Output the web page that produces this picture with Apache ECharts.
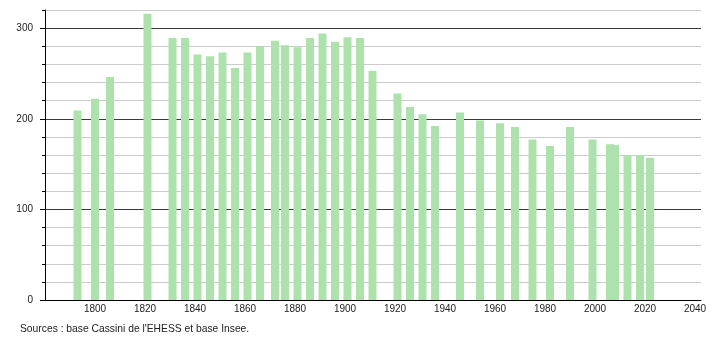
<!DOCTYPE html>
<html><head><meta charset="utf-8">
<script src="https://cdn.jsdelivr.net/npm/echarts@6/dist/echarts.min.js"></script>
<style>html,body{margin:0;padding:0;background:#fff}#c{width:710px;height:340px}</style>
</head><body><div id="c"></div>
<script>
const years = [1793,1800,1806,1821,1831,1836,1841,1846,1851,1856,1861,1866,1872,1876,1881,1886,1891,1896,1901,1906,1911,1921,1926,1931,1936,1946,1954,1962,1968,1975,1982,1990,1999,2006,2008,2013,2018,2022];
const population = [209,222,246,316,289,289,271,269,273,256,273,280,286,281,279,289,294,285,290,289,253,228,213,205,192,207,198,195,191,177,170,191,177,172,171,160,160,157];
const yTickLabels = [0,100,200,300];
const xTickLabels = [1800,1820,1840,1860,1880,1900,1920,1940,1960,1980,2000,2020,2040];
const sourceText = "Sources : base Cassini de l'EHESS et base Insee.";

const chart = echarts.init(document.getElementById('c'), null, {renderer:'canvas'});
const font = 'Liberation Sans, Arial, Helvetica, sans-serif';
chart.setOption({
  animation:false,
  grid:{left:45,right:9,top:10,bottom:40,containLabel:false},
  xAxis:{type:'value',min:1780,max:2042.4,interval:20,
    axisLine:{show:true,onZero:false,lineStyle:{color:'#000',width:1}},
    axisTick:{show:false},splitLine:{show:false},
    axisLabel:{showMinLabel:false,showMaxLabel:false,color:'#222',fontSize:10,fontFamily:font,margin:4,
      formatter:v=>xTickLabels.includes(v)?String(v):''}},
  yAxis:[{type:'value',min:0,max:320,interval:20,
    axisLine:{show:true,lineStyle:{color:'#000',width:1}},
    axisTick:{show:true,length:3,lineStyle:{color:'#000'}},
    splitLine:{show:true,lineStyle:{color:['#3a3a3a','#cccccc','#cccccc','#cccccc','#cccccc'],width:1}},
    axisLabel:{color:'#222',fontSize:10,fontFamily:font,margin:12,
      formatter:v=>yTickLabels.includes(v)?String(v):''}},
    {type:'value',min:0,max:320,position:'left',
    axisLine:{show:false},splitLine:{show:false},axisLabel:{show:false},
    axisTick:{show:true,length:5,customValues:yTickLabels,lineStyle:{color:'#000'}}}],
  series:[{type:'bar',barWidth:8,yAxisIndex:0,
    itemStyle:{color:'#ade2ad'},
    data:years.map((y,i)=>[y,population[i]])}],
  graphic:[{type:'text',left:20,top:324,style:{text:sourceText,fontSize:10.3,fontFamily:font,fill:'#222'}}]
});
</script></body></html>
